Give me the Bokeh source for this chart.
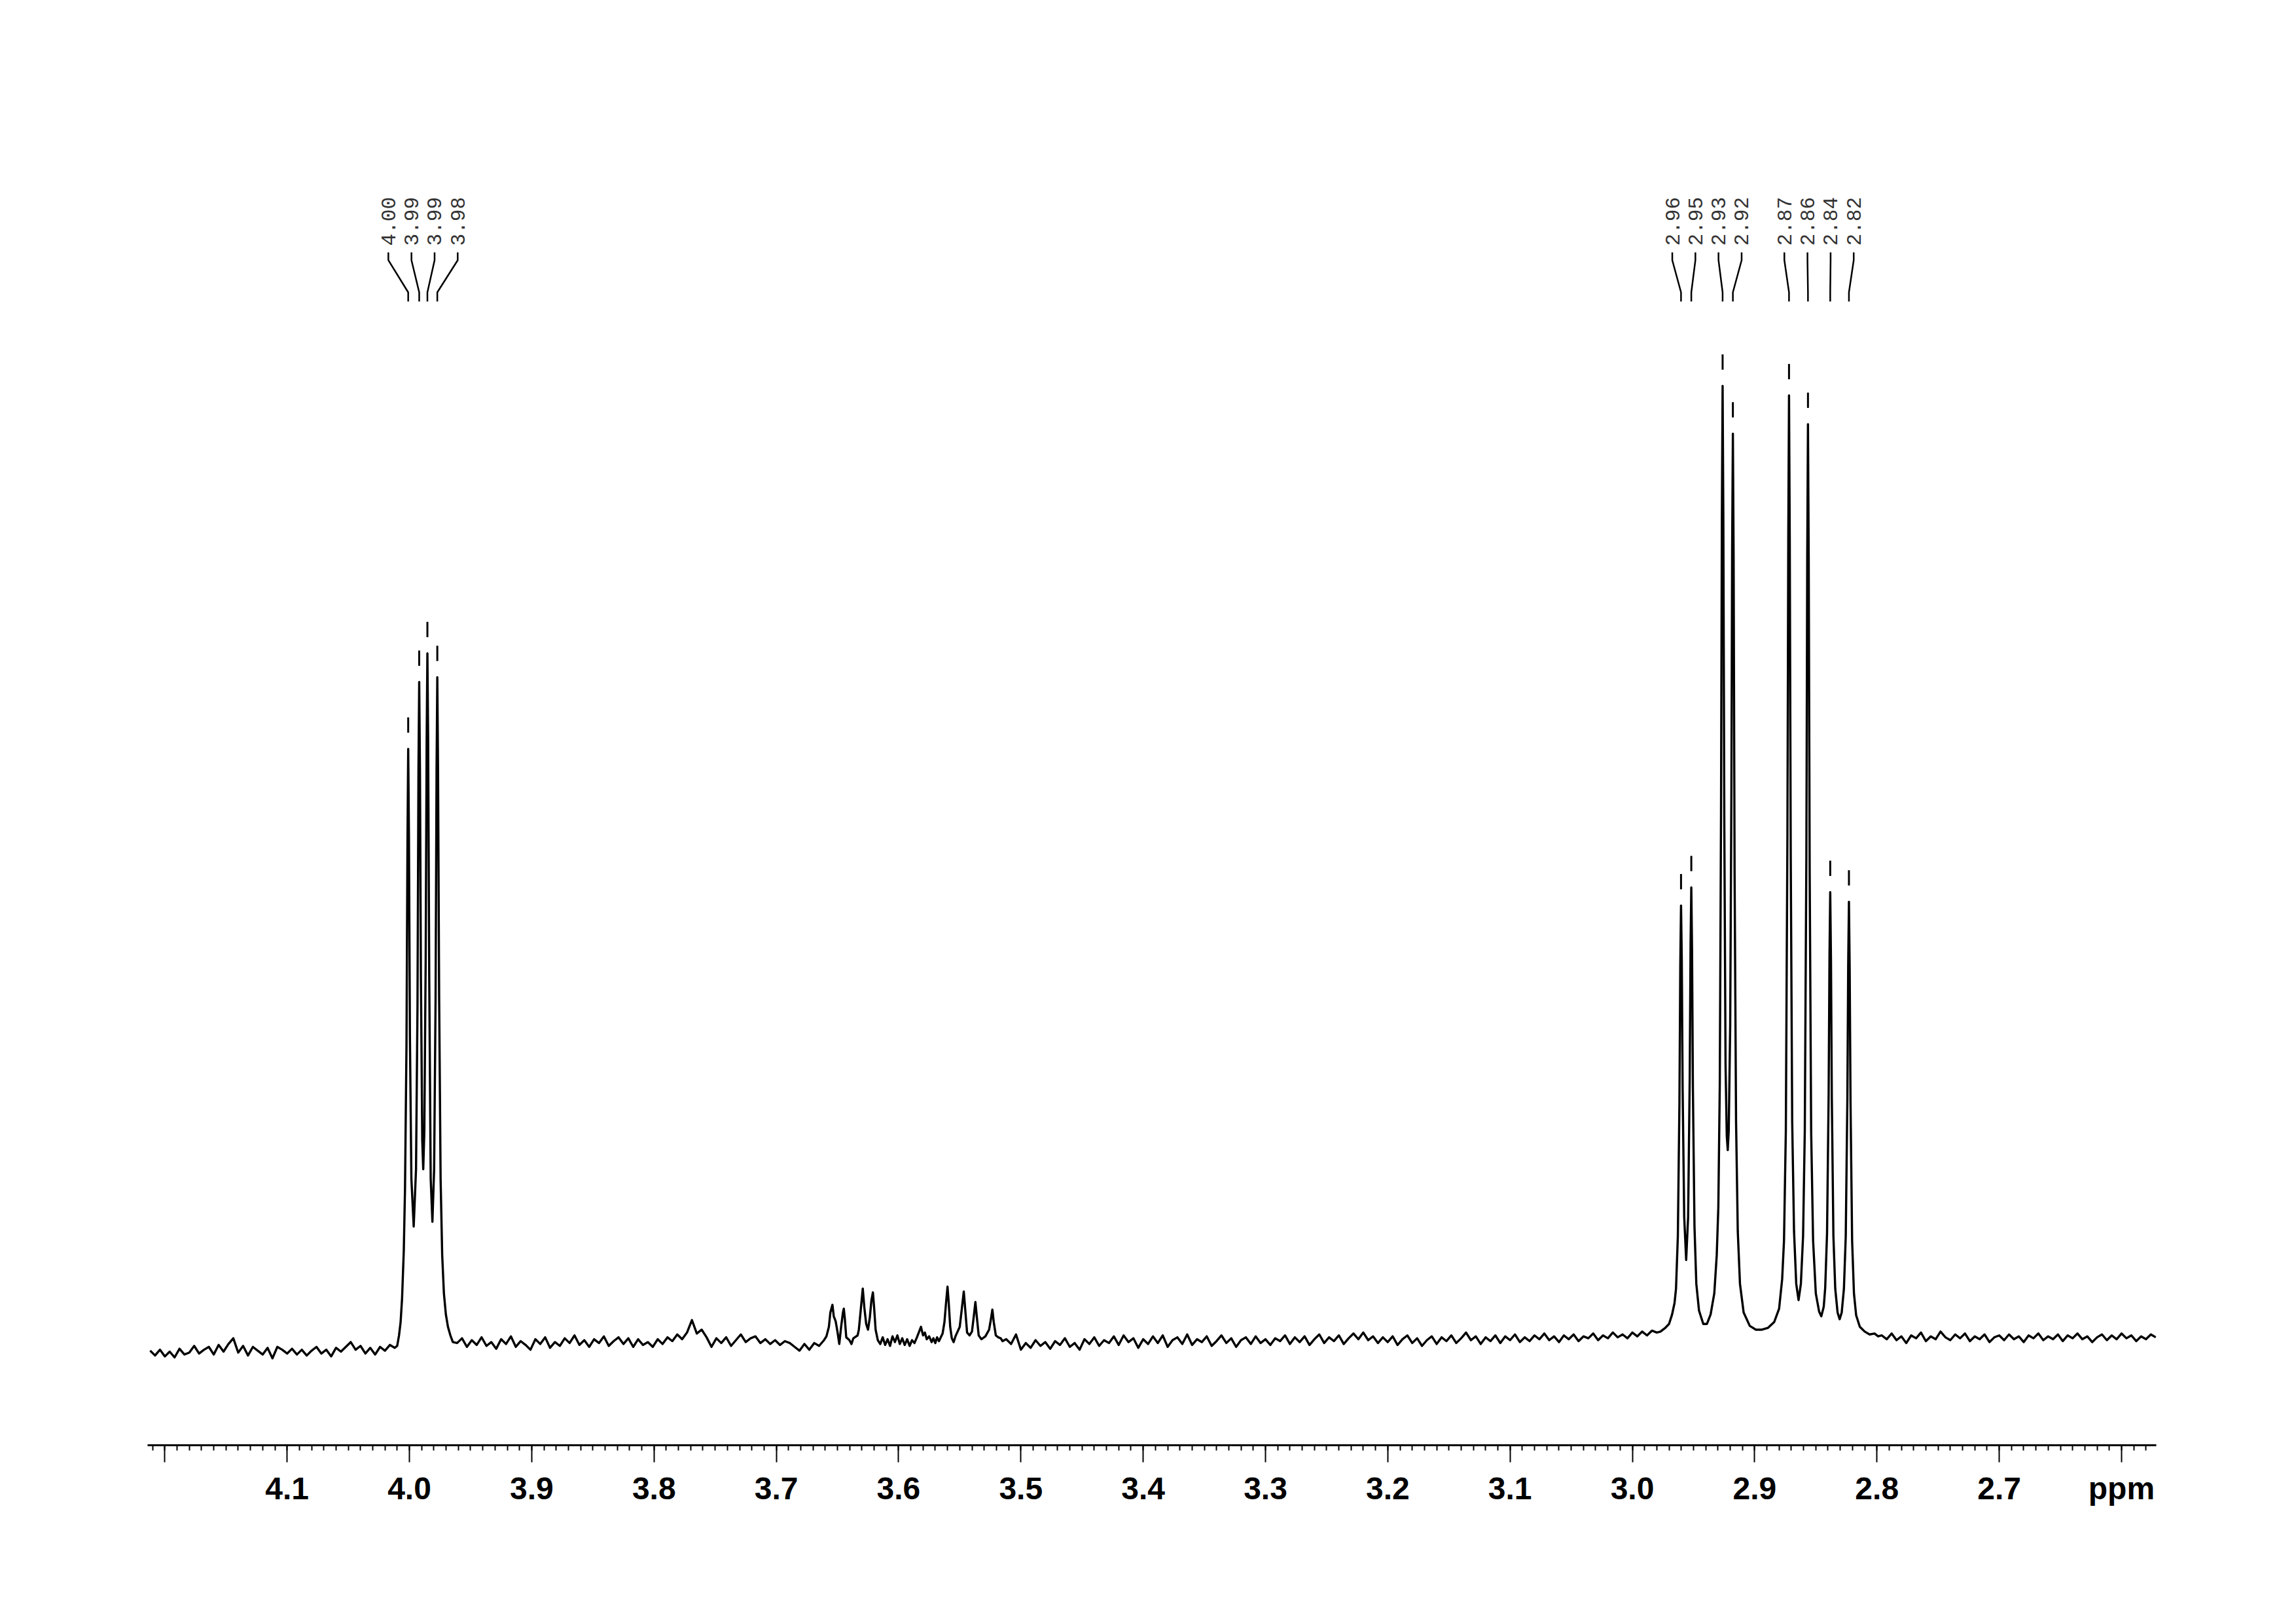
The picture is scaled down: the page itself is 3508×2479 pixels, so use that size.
import numpy as np
from math import pi
from bokeh.plotting import figure
from bokeh.models import Range1d, FixedTicker
from bokeh.core.properties import value
from bokeh.embed import file_html
from bokeh.resources import INLINE

# ---------------- data (ppm, relative intensity; tallest peak = 100) ----------------
STEP = 0.004  # spacing of baseline samples (ppm)

noise_left_start = 4.212
noise_left = [-1.0, -1.5, -0.9, -1.6, -1.1, -1.7, -0.8, -1.4, -1.2, -0.5, -1.3, -0.9, -0.6,
              -1.4, -0.4, -1.1, -0.3, 0.3, -1.2, -0.5, -1.5, -0.6, -1.0, -1.4, -0.7, -1.8,
              -0.6, -0.9, -1.3, -0.8, -1.4, -0.9, -1.5, -1.0, -0.6, -1.3, -0.9, -1.6, -0.7,
              -1.1, -0.6, -0.1, -0.9, -0.5, -1.3, -0.7, -1.4, -0.6, -1.0, -0.4, -0.7]

mult4_ppm = [4.0100, 4.0085, 4.0072, 4.0060, 4.0046, 4.0036, 4.0024, 4.0016, 4.0010, 4.0004,
             3.9996, 3.9984, 3.9965, 3.9946, 3.9934, 3.9926, 3.9920, 3.9914, 3.9906, 3.9895,
             3.9887, 3.9878, 3.9867, 3.9859, 3.9853, 3.9847, 3.9838, 3.9826, 3.9812, 3.9798,
             3.9786, 3.9778, 3.9772, 3.9766, 3.9757, 3.9745, 3.9732, 3.9718, 3.9702, 3.9685,
             3.9665, 3.9645]
mult4_int = [-0.5, 0.6, 2.0, 4.5, 9.5, 16, 31, 52, 62, 53,
             32, 17, 12, 18, 35, 60, 69, 60, 38, 21,
             18, 22, 40, 63, 72, 63, 38, 17, 12.5, 18,
             36, 60, 69.5, 60, 36, 17, 9, 5, 2.8, 1.5,
             0.6, -0.1]

noise_mid1_start = 3.961
noise_mid1 = [-0.2, 0.3, -0.6, 0.1, -0.4, 0.4, -0.5, -0.1, -0.8, 0.2, -0.3, 0.5, -0.6, 0.0,
              -0.4, -0.9, 0.2, -0.3, 0.4, -0.7, -0.1, -0.5, 0.3, -0.2, 0.6, -0.4, 0.1, -0.6,
              0.2, -0.2, 0.5, -0.5, 0.0, 0.4, -0.3, 0.3, -0.6, 0.2, -0.4, -0.1, -0.6, 0.2,
              -0.3, 0.4, 0.0, 0.7, 0.2, 0.9, 2.2, 0.8, 1.2, 0.4, -0.6, 0.3, -0.2, 0.4, -0.5,
              0.1, 0.7, -0.1, 0.3, 0.5, -0.2, 0.2, -0.3, 0.1, -0.4, 0.0, -0.2, -0.6, -1.0,
              -0.3, -0.9, -0.2, -0.5, 0.1]

small_ppm = [3.6590, 3.6570, 3.6558, 3.6541, 3.6530, 3.6515, 3.6500, 3.6485, 3.6470, 3.6455,
             3.6448, 3.6440, 3.6428, 3.6402, 3.6385, 3.6370, 3.6335, 3.6325, 3.6310, 3.6293,
             3.6280, 3.6265, 3.6250, 3.6235, 3.6222, 3.6210, 3.6200, 3.6188, 3.6170, 3.6150,
             3.6130, 3.6110, 3.6090, 3.6070, 3.6050, 3.6030, 3.6010, 3.5990, 3.5970, 3.5950,
             3.5930, 3.5910, 3.5890, 3.5870, 3.5850, 3.5835, 3.5817, 3.5800, 3.5785, 3.5770,
             3.5750, 3.5730, 3.5715, 3.5700, 3.5685, 3.5670, 3.5640, 3.5625, 3.5612, 3.5600,
             3.5590, 3.5578, 3.5565, 3.5550, 3.5535, 3.5500, 3.5482, 3.5467, 3.5455, 3.5440,
             3.5420, 3.5400, 3.5385, 3.5372, 3.5360, 3.5345, 3.5323, 3.5290, 3.5260, 3.5245,
             3.5233, 3.5222, 3.5205, 3.5185, 3.5165, 3.5150]
small_int = [0.5, 1.5, 3.0, 3.8, 2.6, 2.1, 1.0, -0.3, 1.5, 3.0,
             3.4, 2.4, 0.4, 0.1, -0.3, 0.3, 0.6, 1.2, 3.2, 5.5,
             3.5, 1.8, 1.2, 2.5, 4.3, 5.1, 3.5, 1.2, 0.1, -0.3,
             0.4, -0.4, 0.2, -0.5, 0.5, -0.1, 0.6, -0.3, 0.3, -0.4,
             0.2, -0.5, 0.1, -0.2, 0.4, 0.9, 1.5, 0.6, 0.9, 0.2,
             0.5, -0.1, 0.3, -0.2, 0.4, 0.0, 0.8, 2.0, 4.0, 5.7,
             4.0, 1.5, 0.3, -0.1, 0.5, 1.5, 3.5, 5.2, 3.3, 0.9,
             0.6, 1.0, 2.6, 4.1, 2.5, 0.6, 0.2, 0.5, 1.2, 2.3,
             3.3, 2.0, 0.6, 0.4, 0.3, 0.0]

noise_mid2_start = 3.512
noise_mid2 = [0.2, -0.3, 0.7, -0.9, -0.2, -0.7, 0.1, -0.5, -0.1, -0.8, 0.0, -0.4, 0.3, -0.6,
              -0.2, -0.9, 0.2, -0.3, 0.4, -0.5, 0.1, -0.2, 0.5, -0.4, 0.6, -0.1, 0.3, -0.7,
              0.2, -0.3, 0.5, -0.2, 0.6, -0.6, 0.1, 0.4, -0.3, 0.7, -0.4, 0.2, -0.1, 0.5,
              -0.5, 0.0, 0.6, -0.2, 0.3, -0.6, 0.1, 0.4, -0.3, 0.5, -0.2, 0.2, -0.4, 0.3,
              0.0, 0.6, -0.3, 0.4, -0.1, 0.5, -0.4, 0.2, 0.7, -0.2, 0.4, 0.0, 0.6, -0.3,
              0.3, 0.8, 0.2, 0.9, 0.1, 0.5, -0.2, 0.4, -0.1, 0.5, -0.4, 0.2, 0.6, -0.2,
              0.3, -0.5, 0.1, 0.5, -0.3, 0.4, 0.0, 0.6, -0.2, 0.3, 0.9, 0.1, 0.5, -0.3,
              0.4, 0.0, 0.6, -0.2, 0.5, 0.1, 0.7, -0.1, 0.4, 0.0, 0.6, 0.2, 0.8, 0.1,
              0.5, -0.1, 0.6, 0.2, 0.7, 0.0, 0.5, 0.3, 0.8, 0.1, 0.6, 0.3, 0.9, 0.4,
              0.7, 0.3, 0.9, 0.5, 1.0, 0.6, 1.1, 0.9]

mult29_ppm = [2.9770, 2.9730, 2.9700, 2.9675, 2.9655, 2.9643, 2.9628, 2.9615, 2.9608, 2.9602,
              2.9596, 2.9589, 2.9576, 2.9560, 2.9544, 2.9531, 2.9524, 2.9518, 2.9512, 2.9505,
              2.9492, 2.9477, 2.9455, 2.9420, 2.9390, 2.9360, 2.9330, 2.9310, 2.9297, 2.9285,
              2.9275, 2.9268, 2.9262, 2.9256, 2.9248, 2.9238, 2.9228, 2.9220, 2.9212, 2.9200,
              2.9190, 2.9184, 2.9178, 2.9172, 2.9164, 2.9152, 2.9138, 2.9120, 2.9090, 2.9040,
              2.8990, 2.8940, 2.8890, 2.8840, 2.8800, 2.8775, 2.8760, 2.8745, 2.8732, 2.8725,
              2.8719, 2.8713, 2.8705, 2.8693, 2.8678, 2.8660, 2.8641, 2.8622, 2.8604, 2.8590,
              2.8577, 2.8570, 2.8564, 2.8558, 2.8550, 2.8538, 2.8522, 2.8500, 2.8473, 2.8455,
              2.8435, 2.8423, 2.8408, 2.8395, 2.8388, 2.8382, 2.8376, 2.8369, 2.8356, 2.8341,
              2.8322, 2.8305, 2.8288, 2.8270, 2.8255, 2.8242, 2.8235, 2.8229, 2.8223, 2.8216,
              2.8203, 2.8188, 2.8170, 2.8140, 2.8100, 2.8060, 2.8020, 2.7990]
mult29_int = [1.0, 1.4, 1.8, 2.8, 4.0, 5.5, 11, 25, 39.5, 45.6,
              40, 26.5, 13, 8.5, 13, 27.5, 41.5, 47.5, 41, 26.5,
              12, 6, 3.2, 1.8, 1.8, 2.8, 5.0, 9.0, 14, 27,
              55, 86, 100, 86, 54, 29, 21.5, 20, 22, 33,
              58, 83, 95, 82, 49, 23, 11.5, 6, 3.0, 1.6,
              1.2, 1.2, 1.4, 2.0, 3.4, 6.5, 10.5, 22, 53, 84,
              99, 84, 51, 23, 11.5, 6, 4.3, 6, 11, 22,
              51, 82, 96, 82, 49, 22, 10.5, 5, 3.1, 2.6,
              3.6, 5.6, 11.3, 25.8, 40.3, 47, 40, 25.5, 11, 5.5,
              3.0, 2.3, 3.0, 5.5, 11, 25.2, 39.5, 46, 39, 25,
              10.5, 5.0, 2.7, 1.5, 1.0, 0.7, 0.8, 0.5]

noise_right_start = 2.796
noise_right = [0.6, 0.2, 0.8, 0.1, 0.5, -0.2, 0.6, 0.3, 0.9, 0.0, 0.5, 0.2, 1.0, 0.4, 0.1,
               0.7, 0.3, 0.8, 0.0, 0.5, 0.2, 0.7, -0.1, 0.4, 0.6, 0.1, 0.7, 0.2, 0.5, -0.1,
               0.6, 0.3, 0.8, 0.1, 0.5, 0.2, 0.7, 0.0, 0.6, 0.3, 0.8, 0.2, 0.5, -0.1, 0.4,
               0.7, 0.1, 0.6, 0.2, 0.8, 0.3, 0.6, 0.0, 0.5, 0.2, 0.7, 0.4]

# picked peaks
peak_ppm = [4.0010, 3.9920, 3.9853, 3.9772, 2.9602, 2.9518, 2.9262, 2.9178,
            2.8719, 2.8564, 2.8382, 2.8229]
peak_height = [62, 69, 72, 69.5, 45.6, 47.5, 100, 95, 99, 96, 47, 46]
peak_labels = ["4.00", "3.99", "3.99", "3.98", "2.96", "2.95", "2.93", "2.92",
               "2.87", "2.86", "2.84", "2.82"]

tick_values = [4.2, 4.1, 4.0, 3.9, 3.8, 3.7, 3.6, 3.5, 3.4, 3.3, 3.2, 3.1, 3.0,
               2.9, 2.8, 2.7, 2.6]
tick_labels = ["", "4.1", "4.0", "3.9", "3.8", "3.7", "3.6", "3.5", "3.4", "3.3",
               "3.2", "3.1", "3.0", "2.9", "2.8", "2.7", "ppm"]

# ---------------- assemble trace ----------------
def seg(start, vals):
    return [start - STEP * i for i in range(len(vals))], list(vals)

xs, ys = [], []
for px, py in [seg(noise_left_start, noise_left), (mult4_ppm, mult4_int),
               seg(noise_mid1_start, noise_mid1), (small_ppm, small_int),
               seg(noise_mid2_start, noise_mid2), (mult29_ppm, mult29_int),
               seg(noise_right_start, noise_right)]:
    xs += list(px)
    ys += list(py)

# ---------------- figure ----------------
p = figure(width=3490, height=2460,
           x_range=Range1d(4.2141, 2.5716), y_range=Range1d(-10.9, 126.66),
           output_backend="svg", toolbar_location=None, y_axis_location=None,
           min_border_left=225, min_border_right=196, min_border_top=200,
           min_border_bottom=253)
p.outline_line_color = None
p.xgrid.visible = False
p.ygrid.visible = False
p.background_fill_color = "white"
p.border_fill_color = "white"

p.line(xs, ys, line_color="black", line_width=3.4, line_join="round")

# peak markers
mk_x = [[x, x] for x in peak_ppm]
mk_y = [[h + 1.7, h + 3.3] for h in peak_height]
p.multi_line(mk_x, mk_y, line_color="black", line_width=3)

# label positions: spread overlapping labels around cluster centres
SPACING = 0.0189
order = sorted(range(len(peak_ppm)), key=lambda i: -peak_ppm[i])
clusters = [[i] for i in order]

def extent(cl):
    c = sum(peak_ppm[i] for i in cl) / len(cl)
    h = (len(cl) - 1) / 2 * SPACING
    return c + h, c - h

changed = True
while changed:
    changed = False
    out = []
    for cl in clusters:
        if out and (extent(out[-1])[1] - extent(cl)[0]) < SPACING:
            out[-1] = out[-1] + cl
            changed = True
        else:
            out.append(cl)
    clusters = out

label_x = {}
for cl in clusters:
    hi, lo = extent(cl)
    for k, i in enumerate(cl):
        label_x[i] = hi - k * SPACING

Y_TOP0, Y_TOP1, Y_BOT0, Y_BOT1 = 113.98, 113.16, 109.8, 108.84
cx, cy = [], []
for i in range(len(peak_ppm)):
    lx = label_x[i]
    cx.append([lx, lx, peak_ppm[i], peak_ppm[i]])
    cy.append([Y_TOP0, Y_TOP1, Y_BOT0, Y_BOT1])
p.multi_line(cx, cy, line_color="black", line_width=2.5)

p.text(x=[label_x[i] for i in range(len(peak_ppm))], y=[114.67] * len(peak_ppm),
       text=peak_labels, angle=pi / 2, text_align="left", text_baseline="middle",
       text_font=value("Liberation Mono"), text_font_size="31px", text_color="#333333")

# axis
minor = [round(4.21 - 0.01 * i, 2) for i in range(164)]
ax = p.xaxis[0]
ax.ticker = FixedTicker(ticks=tick_values, minor_ticks=minor)
ax.major_label_overrides = {v: l for v, l in zip(tick_values, tick_labels)}
ax.axis_line_width = 3
ax.axis_line_color = "black"
ax.major_tick_out = 26
ax.major_tick_in = 0
ax.minor_tick_out = 8
ax.minor_tick_in = 0
ax.major_tick_line_width = 2
ax.minor_tick_line_width = 2
ax.major_label_text_font = "Liberation Sans"
ax.major_label_text_font_style = "bold"
ax.major_label_text_font_size = "48px"
ax.major_label_text_color = "black"
ax.major_label_standoff = 13

open("out.html", "w").write(file_html(p, INLINE))
